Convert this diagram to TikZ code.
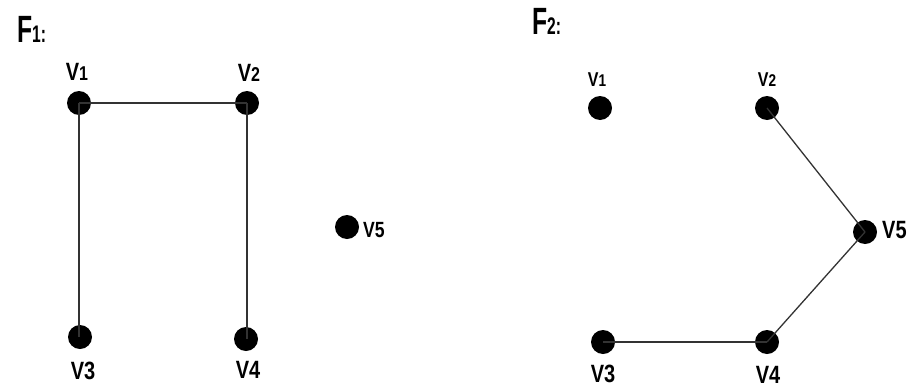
\documentclass[tikz,border=0pt]{standalone}
\usepackage{fontspec}
\setmainfont{Liberation Sans}
\begin{document}
\begin{tikzpicture}[x=1pt,y=-1pt,
  dot/.style={circle,fill=black,inner sep=0pt,minimum size=24pt},
  edge/.style={draw=black!80,line width=1.3pt},
  lab/.style={font=\bfseries\fontsize{25}{25}\selectfont,inner sep=0pt,xscale=0.8,transform shape},
  labs/.style={font=\bfseries\fontsize{20}{20}\selectfont,inner sep=0pt,xscale=0.8,transform shape},
  ttl/.style={font=\bfseries\fontsize{38}{38}\selectfont,inner sep=0pt,xscale=0.65,transform shape,anchor=west}]
\useasboundingbox (0,0) rectangle (909,388);
% F1
\node[ttl] (t1) at (17,29) {F{\fontsize{24}{24}\selectfont 1:}};
\node[dot] (a1) at (79,103) {};
\node[dot] (a2) at (247,103) {};
\node[dot] (a3) at (80,337) {};
\node[dot] (a4) at (246,339) {};
\node[dot] (a5) at (347,227) {};
\draw[edge] (a1.center) -- (a2.center);
\draw[edge] (79,103) -- (79,337);
\draw[edge] (247,103) -- (247,339);
\node[lab] (la1) at (77,72) {V{\fontsize{20}{20}\selectfont 1}};
\node[lab] (la2) at (249,73) {V{\fontsize{20}{20}\selectfont 2}};
\node[lab] (la3) at (83,371) {V3};
\node[lab] (la4) at (248,370) {V4};
\node[lab,anchor=west,font=\bfseries\fontsize{22}{22}\selectfont] (la5) at (363,230) {V5};
% F2
\node[ttl] (t2) at (532,21) {F{\fontsize{24}{24}\selectfont 2:}};
\node[dot] (b1) at (600,108) {};
\node[dot] (b2) at (767,108) {};
\node[dot] (b3) at (603,342) {};
\node[dot] (b4) at (767,342) {};
\node[dot] (b5) at (865,232) {};
\draw[edge] (b2.center) -- (b5.center);
\draw[edge] (b5.center) -- (b4.center);
\draw[edge] (b3.center) -- (b4.center);
\node[labs] (lb1) at (597,80) {V{\fontsize{17}{17}\selectfont 1}};
\node[labs] (lb2) at (767,80) {V{\fontsize{17}{17}\selectfont 2}};
\node[lab] (lb3) at (603,374) {V3};
\node[lab] (lb4) at (768,375) {V4};
\node[lab,anchor=west] (lb5) at (882,230) {V5};
\end{tikzpicture}
\end{document}
